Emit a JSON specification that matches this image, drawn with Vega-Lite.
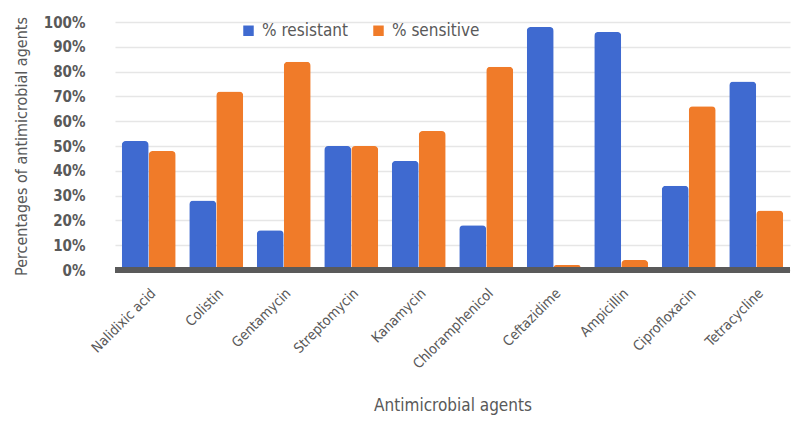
{
  "$schema": "https://vega.github.io/schema/vega-lite/v6.json",
  "width": 675,
  "height": 248,
  "autosize": "none",
  "padding": {"left": 115, "top": 22, "right": 5, "bottom": 155},
  "background": "white",
  "config": {
    "view": {"stroke": null},
    "font": "'DejaVu Sans Condensed', 'Liberation Sans Narrow', Roboto, sans-serif"
  },
  "data": {
    "values": [
      {"agent": "Nalidixic acid", "series": "% resistant", "value": 52},
      {"agent": "Nalidixic acid", "series": "% sensitive", "value": 48},
      {"agent": "Colistin", "series": "% resistant", "value": 28},
      {"agent": "Colistin", "series": "% sensitive", "value": 72},
      {"agent": "Gentamycin", "series": "% resistant", "value": 16},
      {"agent": "Gentamycin", "series": "% sensitive", "value": 84},
      {"agent": "Streptomycin", "series": "% resistant", "value": 50},
      {"agent": "Streptomycin", "series": "% sensitive", "value": 50},
      {"agent": "Kanamycin", "series": "% resistant", "value": 44},
      {"agent": "Kanamycin", "series": "% sensitive", "value": 56},
      {"agent": "Chloramphenicol", "series": "% resistant", "value": 18},
      {"agent": "Chloramphenicol", "series": "% sensitive", "value": 82},
      {"agent": "Ceftazidime", "series": "% resistant", "value": 98},
      {"agent": "Ceftazidime", "series": "% sensitive", "value": 2},
      {"agent": "Ampicillin", "series": "% resistant", "value": 96},
      {"agent": "Ampicillin", "series": "% sensitive", "value": 4},
      {"agent": "Ciprofloxacin", "series": "% resistant", "value": 34},
      {"agent": "Ciprofloxacin", "series": "% sensitive", "value": 66},
      {"agent": "Tetracycline", "series": "% resistant", "value": 76},
      {"agent": "Tetracycline", "series": "% sensitive", "value": 24}
    ]
  },
  "layer": [
    {
      "mark": {"type": "bar", "cornerRadiusTopLeft": 4, "cornerRadiusTopRight": 4, "stroke": null},
      "encoding": {
        "x": {
          "field": "agent",
          "type": "nominal",
          "sort": null,
          "scale": {"paddingInner": 0.2, "paddingOuter": 0.1},
          "axis": {
            "title": "Antimicrobial agents",
            "titleFontSize": 17,
            "titleFontWeight": "normal",
            "titleColor": "#595959",
            "titlePadding": 26,
            "labelAngle": -45,
            "labelFontSize": 14,
            "labelFontWeight": "normal",
            "labelColor": "#595959",
            "labelPadding": 16,
            "labelDx": -6,
            "labelOverlap": false,
            "domain": false,
            "ticks": false
          }
        },
        "xOffset": {"field": "series", "type": "nominal"},
        "y": {
          "field": "value",
          "type": "quantitative",
          "scale": {"domain": [0, 100]},
          "axis": {
            "title": "Percentages of antimicrobial agents",
            "titleFontSize": 16,
            "titleFontWeight": "normal",
            "titleColor": "#595959",
            "titlePadding": 14,
            "values": [0, 10, 20, 30, 40, 50, 60, 70, 80, 90, 100],
            "labelOverlap": false,
            "labelExpr": "datum.value + '%'",
            "labelFontSize": 15,
            "labelFontWeight": "bold",
            "labelColor": "#595959",
            "labelPadding": 30,
            "domain": false,
            "ticks": false,
            "gridColor": "#e6e6e6",
            "gridWidth": 1.5
          }
        },
        "color": {
          "field": "series",
          "type": "nominal",
          "scale": {"domain": ["% resistant", "% sensitive"], "range": ["#3f6ad0", "#f07b29"]},
          "legend": {
            "title": null,
            "orient": "none",
            "legendX": 125,
            "legendY": 0,
            "direction": "horizontal",
            "symbolType": "square",
            "symbolSize": 110,
            "labelFontSize": 17,
            "labelColor": "#595959",
            "columnPadding": 22,
            "labelOffset": 5
          }
        }
      }
    },
    {
      "mark": {"type": "rule", "color": "#5a5a5a", "strokeWidth": 5},
      "encoding": {
        "y": {
          "datum": 0,
          "type": "quantitative",
          "axis": {
            "title": "Percentages of antimicrobial agents",
            "titleFontSize": 16,
            "titleFontWeight": "normal",
            "titleColor": "#595959",
            "titlePadding": 14,
            "values": [0, 10, 20, 30, 40, 50, 60, 70, 80, 90, 100],
            "labelOverlap": false,
            "labelExpr": "datum.value + '%'",
            "labelFontSize": 15,
            "labelFontWeight": "bold",
            "labelColor": "#595959",
            "labelPadding": 30,
            "domain": false,
            "ticks": false,
            "gridColor": "#e6e6e6",
            "gridWidth": 1.5
          }
        }
      }
    }
  ]
}
